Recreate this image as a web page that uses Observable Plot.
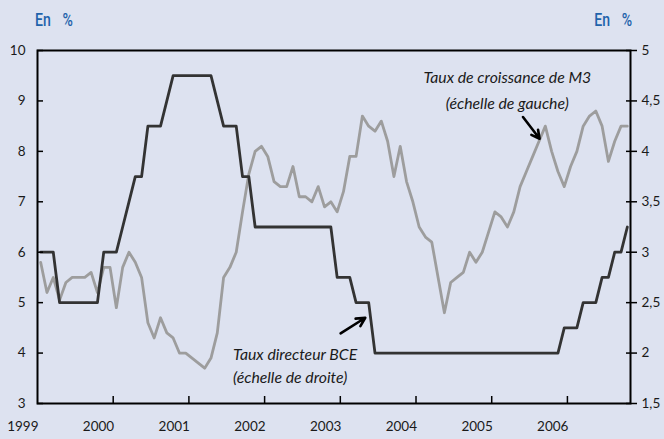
<!DOCTYPE html>
<html>
<head>
<meta charset="utf-8">
<script src="https://cdn.jsdelivr.net/npm/d3@7"></script>
<script src="https://cdn.jsdelivr.net/npm/@observablehq/plot@0.6"></script>
<style>
  html, body { margin: 0; padding: 0; background: #dde2f0; }
  #wrap { position: relative; width: 664px; height: 439px; }
  #wrap svg { display: block; }
  .unit { position: absolute; top: 8px; font-family: Roboto, sans-serif; font-weight: 500;
          font-size: 19px; color: #1f63ab; word-spacing: 11px; white-space: pre;
          transform: scaleX(0.74); }
  .unit.left { left: 35px; transform-origin: left top; }
  .unit.right { right: 32px; transform-origin: right top; }
</style>
</head>
<body>
<div id="wrap">
  <div class="unit left">En %</div>
  <div class="unit right">En %</div>
</div>
<script>
// Monthly series, January 1999 to October 2006
const startYear = 1999;

// M3 growth rate (left scale, %)
const m3Growth = [
  5.8, 5.2, 5.5, 5.05, 5.4, 5.5, 5.5, 5.5, 5.6, 5.2, 5.7, 5.7,   // 1999
  4.9, 5.7, 6.0, 5.8, 5.5, 4.6, 4.3, 4.7, 4.4, 4.3, 4.0, 4.0,    // 2000
  3.9, 3.8, 3.7, 3.9, 4.4, 5.5, 5.7, 6.0, 6.8, 7.55, 8.0, 8.1,   // 2001
  7.9, 7.4, 7.3, 7.3, 7.7, 7.1, 7.1, 7.0, 7.3, 6.9, 7.0, 6.8,    // 2002
  7.2, 7.9, 7.9, 8.7, 8.5, 8.4, 8.6, 8.2, 7.5, 8.1, 7.4, 7.0,    // 2003
  6.5, 6.3, 6.2, 5.5, 4.8, 5.4, 5.5, 5.6, 6.0, 5.8, 6.0, 6.4,    // 2004
  6.8, 6.7, 6.5, 6.8, 7.3, 7.6, 7.9, 8.2, 8.5, 8.0, 7.6, 7.3,    // 2005
  7.7, 8.0, 8.5, 8.7, 8.8, 8.5, 7.8, 8.2, 8.5, 8.5               // 2006
];

// ECB key rate (right scale, %)
const ecbRate = [
  3, 3, 3, 2.5, 2.5, 2.5, 2.5, 2.5, 2.5, 2.5, 3, 3,                         // 1999
  3, 3.25, 3.5, 3.75, 3.75, 4.25, 4.25, 4.25, 4.5, 4.75, 4.75, 4.75,        // 2000
  4.75, 4.75, 4.75, 4.75, 4.5, 4.25, 4.25, 4.25, 3.75, 3.75, 3.25, 3.25,    // 2001
  3.25, 3.25, 3.25, 3.25, 3.25, 3.25, 3.25, 3.25, 3.25, 3.25, 3.25, 2.75,   // 2002
  2.75, 2.75, 2.5, 2.5, 2.5, 2, 2, 2, 2, 2, 2, 2,                           // 2003
  2, 2, 2, 2, 2, 2, 2, 2, 2, 2, 2, 2,                                       // 2004
  2, 2, 2, 2, 2, 2, 2, 2, 2, 2, 2, 2.25,                                    // 2005
  2.25, 2.25, 2.5, 2.5, 2.5, 2.75, 2.75, 3, 3, 3.25                         // 2006
];

const yearLabels = [1999, 2000, 2001, 2002, 2003, 2004, 2005, 2006];
const yearTicks = [2000, 2001, 2002, 2003, 2004, 2005, 2006];
const leftTicks = [3, 4, 5, 6, 7, 8, 9, 10];
const rightTicks = [1.5, 2, 2.5, 3, 3.5, 4, 4.5, 5];

// annotation texts and anchor points (data units: year, left-scale value)
const labelM3 = "Taux de croissance de M3\n(échelle de gauche)";
const labelEcb = "Taux directeur BCE\n(échelle de droite)";
const labelM3At = {x: 2005.206, y: 9.256};
const labelEcbAt = {x: 2001.583, y: 3.784};
const arrowM3 = {x1: 2005.413, y1: 8.68, x2: 2005.633, y2: 8.25};
const arrowEcb = {x1: 2003.004, y1: 4.39, x2: 2003.330, y2: 4.70};

const rightToLeft = 2; // left value = right value * 2
const m3Data = m3Growth.map((v, i) => ({date: startYear + (i + 0.5) / 12, value: v}));
const ecbData = ecbRate.map((v, i) => ({date: startYear + (i + 0.5) / 12, value: v * rightToLeft}));
const fmtComma = d => String(d / rightToLeft).replace(".", ",");
const noText = () => "";
const rightTickVals = rightTicks.map(d => d * rightToLeft);

const chart = Plot.plot({
  width: 664,
  height: 439,
  marginLeft: 37,
  marginRight: 34,
  marginTop: 50,
  marginBottom: 36,
  style: {background: "transparent", fontFamily: "Lato, sans-serif", fontSize: "13.5px", color: "#1a1a1a"},
  x: {domain: [startYear, startYear + ecbRate.length / 12], axis: null},
  y: {domain: [3, 10], axis: null},
  marks: [
    Plot.line(m3Data, {x: "date", y: "value", stroke: "#9d9d9d", strokeWidth: 2.8}),
    Plot.line(ecbData, {x: "date", y: "value", stroke: "#333333", strokeWidth: 2.8}),
    Plot.frame({stroke: "#000", strokeWidth: 2}),
    // left axis
    Plot.axisY({anchor: "left", ticks: leftTicks, tickSize: -6, tickFormat: noText, label: null, strokeWidth: 1.5, stroke: "#000"}),
    Plot.axisY({anchor: "left", ticks: leftTicks, tickSize: 0, tickPadding: 12, tickFormat: d => String(d), label: null, fontSize: 13.5}),
    // right axis
    Plot.axisY({anchor: "right", ticks: rightTickVals, tickSize: 6, tickFormat: noText, label: null, strokeWidth: 1.5, stroke: "#000"}),
    Plot.axisY({anchor: "right", ticks: rightTickVals, tickSize: -5, tickFormat: noText, label: null, strokeWidth: 1.5, stroke: "#000"}),
    Plot.axisY({anchor: "right", ticks: rightTickVals, tickSize: 0, tickPadding: 11, tickFormat: fmtComma, label: null, fontSize: 13.5}),
    // x axis
    Plot.axisX({anchor: "bottom", ticks: yearTicks, tickSize: -7, tickFormat: noText, label: null, strokeWidth: 1.5, stroke: "#000"}),
    Plot.axisX({anchor: "bottom", ticks: yearLabels, tickSize: 0, tickPadding: 18, tickFormat: d => String(d), textAnchor: "end", dx: 1, label: null, fontSize: 13.5}),
    // annotations
    Plot.text([labelM3At], {x: "x", y: "y", text: [labelM3], fontStyle: "italic", fontSize: 15.8, lineHeight: 1.6, textAnchor: "middle", fill: "#1a1a1a"}),
    Plot.text([labelEcbAt], {x: "x", y: "y", text: [labelEcb], fontStyle: "italic", fontSize: 15.8, lineHeight: 1.5, textAnchor: "start", fill: "#1a1a1a"}),
    Plot.arrow([arrowM3, arrowEcb], {x1: "x1", y1: "y1", x2: "x2", y2: "y2", stroke: "#000", strokeWidth: 2.6, headLength: 9, headAngle: 55})
  ]
});
document.getElementById("wrap").prepend(chart);
</script>
</body>
</html>
